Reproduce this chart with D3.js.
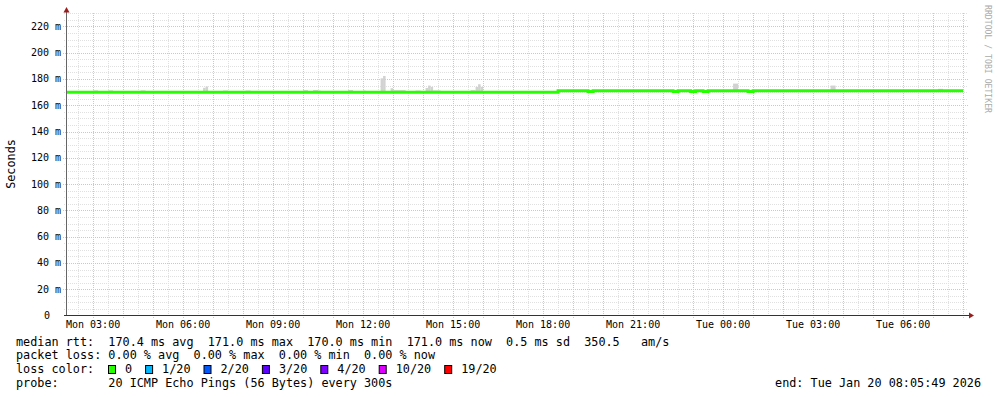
<!DOCTYPE html>
<html>
<head>
<meta charset="utf-8">
<script src="https://cdn.jsdelivr.net/npm/d3@7"></script>
<style>
  body { margin: 0; background: #fff; }
  svg { display: block; }
  text { font-family: "DejaVu Sans Mono", monospace; fill: #000; white-space: pre; }
</style>
</head>
<body>
<svg id="chart" width="997" height="397"></svg>
<script>
const W = 997
const H = 397

// median rtt (ms), step values starting at each time
const medianTimes = ['2026-01-19 02:05', '2026-01-19 18:30', '2026-01-19 19:30', '2026-01-19 19:40',
  '2026-01-19 22:20', '2026-01-19 22:30', '2026-01-19 22:55', '2026-01-19 23:05', '2026-01-19 23:20',
  '2026-01-19 23:30', '2026-01-20 00:50', '2026-01-20 01:00', '2026-01-20 08:00']
const medianValues = [170.0, 171.0, 170.4, 171.0, 170.4, 171.0, 170.4, 171.0, 170.4, 171.0, 170.4, 171.0, 171.0]

// smoke: [start, minutes, top ms]
const smoke = [
  ['2026-01-19 03:00', 10, 171.3], ['2026-01-19 03:30', 10, 171.3], ['2026-01-19 04:35', 10, 171.3],
  ['2026-01-19 06:40', 5, 173.3], ['2026-01-19 06:45', 5, 174.3], ['2026-01-19 07:20', 10, 171.2],
  ['2026-01-19 08:05', 10, 171.2], ['2026-01-19 10:00', 10, 171.5], ['2026-01-19 10:20', 10, 171.6],
  ['2026-01-19 10:30', 5, 171.2], ['2026-01-19 11:30', 10, 171.6], ['2026-01-19 12:00', 5, 171.2],
  ['2026-01-19 12:35', 5, 180.5], ['2026-01-19 12:40', 5, 182.3], ['2026-01-19 12:55', 5, 173.0],
  ['2026-01-19 13:00', 25, 171.5], ['2026-01-19 13:45', 10, 171.2], ['2026-01-19 14:05', 5, 173.2],
  ['2026-01-19 14:10', 5, 175.0], ['2026-01-19 14:15', 5, 174.0], ['2026-01-19 14:20', 15, 171.3],
  ['2026-01-19 15:35', 10, 171.5], ['2026-01-19 15:45', 5, 174.0], ['2026-01-19 15:50', 5, 176.0],
  ['2026-01-19 15:55', 5, 174.0], ['2026-01-20 00:20', 10, 176.5], ['2026-01-20 03:35', 10, 175.0],
  ['2026-01-20 07:10', 10, 172.5]
]

const yTicks = [0, 20, 40, 60, 80, 100, 120, 140, 160, 180, 200, 220]
const lossLabels = ['0', '1/20', '2/20', '3/20', '4/20', '10/20', '19/20']
const lossColors = ['#26ff00', '#00b8ff', '#0059ff', '#5e00ff', '#7e00ff', '#dd00ff', '#ff0000']
const legendRows = [
  'median rtt:  170.4 ms avg  171.0 ms max  170.0 ms min  171.0 ms now  0.5 ms sd  350.5   am/s',
  'packet loss: 0.00 % avg  0.00 % max  0.00 % min  0.00 % now',
  'loss color:',
  'probe:       20 ICMP Echo Pings (56 Bytes) every 300s'
]
const endLabel = 'end: Tue Jan 20 08:05:49 2026'

const parse = d3.timeParse('%Y-%m-%d %H:%M')
const start = new Date(2026, 0, 19, 2, 5, 49)
const end = new Date(2026, 0, 20, 8, 5, 49)

const x = d3.scaleTime().domain([start, end]).range([66, 966])
const y = d3.scaleLinear().domain([0, 230]).range([315.5, 13.3])
const px = v => Math.round(v) + 0.5

const svg = d3.select('#chart')
svg.append('rect').attr('width', W).attr('height', H).attr('fill', '#fff')

// grid
const MINOR = '#e0e0e0'
const MAJOR = '#e8bcbc'
const grid = svg.append('g')
const minorY = d3.range(0, 231, 5).filter(v => v % 20 !== 0)
const majorY = yTicks.slice(1)
grid.selectAll('.hmin').data(minorY).join('line')
  .attr('x1', 64).attr('x2', 968)
  .attr('y1', d => px(y(d))).attr('y2', d => px(y(d)))
  .attr('stroke', MINOR).attr('stroke-dasharray', '1,1')
const minorX = d3.timeMinute.every(30).range(start, end).filter(d => d.getMinutes() !== 0)
const majorX = d3.timeHour.range(start, end)
grid.selectAll('.vmin').data(minorX).join('line')
  .attr('x1', d => px(x(d))).attr('x2', d => px(x(d)))
  .attr('y1', 13).attr('y2', 317)
  .attr('stroke', MINOR).attr('stroke-dasharray', '1,1')
grid.selectAll('.hmaj').data(majorY).join('line')
  .attr('x1', 63).attr('x2', 969)
  .attr('y1', d => px(y(d))).attr('y2', d => px(y(d)))
  .attr('stroke', MAJOR).attr('stroke-dasharray', '1,1')
grid.selectAll('.vmaj').data(majorX).join('line')
  .attr('x1', d => px(x(d))).attr('x2', d => px(x(d)))
  .attr('y1', 13).attr('y2', 318)
  .attr('stroke', MAJOR).attr('stroke-dasharray', '1,1')

// clip
svg.append('clipPath').attr('id', 'plot').append('rect')
  .attr('x', 67).attr('y', 10).attr('width', 900).attr('height', 306)

const medianPts = medianTimes.map((t, i) => ({ t: parse(t), v: medianValues[i] }))
const medianAt = t => {
  let v = medianPts[0].v
  medianPts.forEach(p => { if (p.t <= t) v = p.v })
  return v
}

// smoke
svg.append('g').attr('clip-path', 'url(#plot)')
  .selectAll('rect').data(smoke).join('rect')
  .attr('x', d => x(parse(d[0])))
  .attr('width', d => x(d3.timeMinute.offset(parse(d[0]), d[1])) - x(parse(d[0])))
  .attr('y', d => y(d[2]))
  .attr('height', d => y(medianAt(parse(d[0]))) - y(d[2]))
  .attr('fill', '#d2d2d2')

// median line
const line = d3.line().curve(d3.curveStepAfter).x(d => x(d.t)).y(d => y(d.v))
svg.append('path').attr('clip-path', 'url(#plot)')
  .datum(medianPts)
  .attr('d', line)
  .attr('fill', 'none')
  .attr('stroke', lossColors[0])
  .attr('stroke-width', 3)

// axes
svg.append('line').attr('x1', 66.5).attr('x2', 66.5).attr('y1', 315).attr('y2', 11)
  .attr('stroke', '#666')
svg.append('line').attr('x1', 64).attr('x2', 970).attr('y1', 315.5).attr('y2', 315.5)
  .attr('stroke', '#333')
svg.append('path').attr('d', 'M63.5,12.5 L66.5,7 L69.5,12.5 Z').attr('fill', '#9b1c1c')
svg.append('path').attr('d', 'M969,312.5 L974,315.5 L969,318.5 Z').attr('fill', '#9b1c1c')

// y labels
svg.append('g').selectAll('text').data(yTicks).join('text')
  .attr('x', d => d === 0 ? 50 : 61)
  .attr('y', d => y(d))
  .attr('dy', '0.35em')
  .attr('text-anchor', 'end')
  .attr('font-size', 10)
  .text(d => d === 0 ? '0' : `${d} m`)

// x labels
const fmt = d3.timeFormat('%a %H:%M')
svg.append('g').selectAll('text').data(d3.timeHour.every(3).range(start, end)).join('text')
  .attr('x', d => x(d))
  .attr('y', 324.5)
  .attr('dy', '0.35em')
  .attr('text-anchor', 'middle')
  .attr('font-size', 10)
  .text(d => fmt(d))

// axis title
svg.append('text')
  .attr('transform', 'translate(11,164) rotate(-90)')
  .attr('dy', '0.35em')
  .attr('text-anchor', 'middle')
  .attr('font-size', 11.8)
  .text('Seconds')

// watermark
svg.append('text')
  .attr('transform', 'translate(985,5) rotate(90)')
  .attr('text-anchor', 'start')
  .attr('font-size', 8.5)
  .attr('textLength', 108)
  .attr('lengthAdjust', 'spacingAndGlyphs')
  .style('fill', '#aaaaaa')
  .text('RRDTOOL / TOBI OETIKER')

// legend
const rowY = [341.5, 355, 369, 383]
svg.append('g').selectAll('text').data(legendRows).join('text')
  .attr('x', 16)
  .attr('y', (d, i) => rowY[i])
  .attr('dy', '0.35em')
  .attr('font-size', 11.8)
  .text(d => d)

const CH = 7.1
let lx = 108
lossLabels.forEach((lab, i) => {
  svg.append('rect')
    .attr('x', lx + 0.5).attr('y', 365.5).attr('width', 7).attr('height', 8)
    .attr('fill', lossColors[i]).attr('stroke', '#000').attr('stroke-width', 1)
  svg.append('text')
    .attr('x', lx + 17).attr('y', rowY[2]).attr('dy', '0.35em')
    .attr('font-size', 11.8)
    .text(lab)
  lx += 17 + lab.length * CH + 13
})

svg.append('text')
  .attr('x', 981).attr('y', rowY[3]).attr('dy', '0.35em')
  .attr('text-anchor', 'end')
  .attr('font-size', 11.8)
  .text(endLabel)
</script>
</body>
</html>
